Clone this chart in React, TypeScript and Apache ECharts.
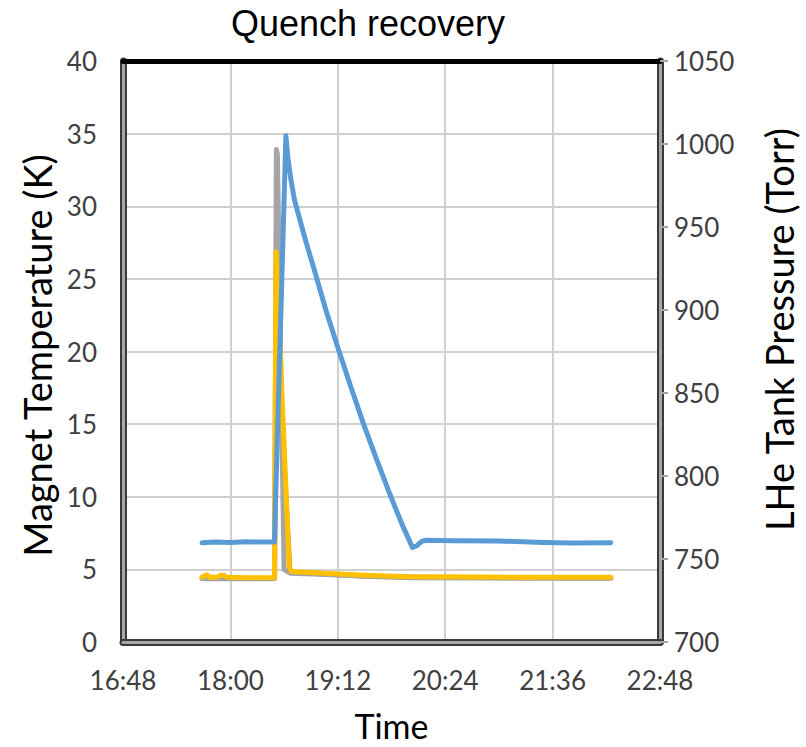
import React, { useEffect, useRef } from "react";
import * as echarts from "echarts";

// Time in minutes after midnight
const xTickMin = 1008; // 16:48
const xTickMax = 1368; // 22:48
const xTickStep = 72;

// LHe tank pressure (Torr), right axis – blue
const pressureTime = [1061, 1070, 1080, 1090, 1100, 1109.5, 1117.2, 1118.5, 1120.5, 1123, 1127, 1131, 1136, 1144, 1152.5, 1161, 1169, 1178, 1186.5, 1195, 1202, 1205, 1208, 1211, 1230, 1260, 1290, 1310, 1335];
const pressureValue = [759.8, 760.3, 760.0, 760.4, 760.2, 760.3, 1005, 992, 979, 966, 953, 940, 925, 900, 876, 853, 832, 810, 790, 771, 757, 758, 760.5, 761.3, 761.0, 760.8, 760.0, 759.6, 759.8];

// Magnet temperatures (K), left axis
const orangeTime = [1061, 1090, 1109.6, 1111, 1119.8, 1121, 1140, 1170, 1200, 1250, 1300, 1335];
const orangeValue = [4.4, 4.38, 4.38, 22, 5.1, 4.8, 4.7, 4.55, 4.47, 4.44, 4.43, 4.43];

const grayTime = [1061, 1090, 1109.6, 1110.8, 1111.5, 1116, 1120, 1140, 1170, 1200, 1250, 1300, 1335];
const grayValue = [4.36, 4.36, 4.36, 33.9, 33.6, 5.0, 4.74, 4.67, 4.52, 4.43, 4.4, 4.39, 4.39];

const yellowTime = [1061, 1063, 1064.5, 1066, 1071, 1073.5, 1075.5, 1078, 1090, 1109.5, 1110.6, 1119.4, 1121, 1140, 1170, 1200, 1250, 1300, 1335];
const yellowValue = [4.45, 4.6, 4.62, 4.45, 4.45, 4.6, 4.6, 4.45, 4.43, 4.42, 26.85, 5.2, 4.85, 4.75, 4.6, 4.5, 4.47, 4.45, 4.45];

const tempMin = 0, tempMax = 40, tempStep = 5;
const presMin = 700, presMax = 1050, presStep = 50;

const zip = (a: number[], b: number[]) => a.map((t, i) => [t, b[i]]);
const fmtTime = (v: number) => `${Math.floor(v / 60)}:${String(Math.round(v % 60)).padStart(2, "0")}`;

const TICK_FONT = "Lato";
const TITLE_FONT = "Lato";

export default function App() {
  const ref = useRef<HTMLDivElement>(null);
  useEffect(() => {
    document.body.style.margin = "0";
    const chart = echarts.init(ref.current!, null, { renderer: "svg" });
    const dark = "#3a3a3a";
    const gray = "#A6A6A6";
    const hiddenAxis = {
      axisLabel: { show: false },
      axisTick: { show: false },
      splitLine: { show: false },
    };
    const lineW = 5;
    chart.setOption({
      animation: false,
      backgroundColor: "#fff",
      title: {
        text: "Quench recovery",
        left: 368,
        textAlign: "center",
        top: 5,
        padding: 0,
        textStyle: { fontFamily: "Liberation Sans", fontSize: 36, fontWeight: "normal", color: "#000" },
      },
      grid: { left: 123, right: 138, top: 61, bottom: 100, containLabel: false },
      xAxis: [
        {
          type: "value",
          min: xTickMin,
          max: xTickMax,
          interval: xTickStep,
          position: "bottom",
          name: "Time",
          nameLocation: "middle",
          nameGap: 66,
          nameTextStyle: { fontFamily: TITLE_FONT, fontSize: 34, color: "#000" },
          axisLine: { lineStyle: { color: dark, width: 7 } },
          axisTick: { show: false },
          axisLabel: { fontFamily: TICK_FONT, fontSize: 26, color: "#404040", margin: 25, formatter: fmtTime },
          splitLine: { show: true, lineStyle: { color: "#D0D0D0", width: 2 } },
        },
        {
          type: "value", min: xTickMin, max: xTickMax, position: "bottom",
          axisLine: { lineStyle: { color: gray, width: 3 } }, ...hiddenAxis,
        },
        {
          type: "value", min: xTickMin, max: xTickMax, position: "top",
          axisLine: { lineStyle: { color: "#000", width: 5 } }, ...hiddenAxis,
        },
      ],
      yAxis: [
        {
          type: "value",
          min: tempMin,
          max: tempMax,
          interval: tempStep,
          position: "left",
          name: "Magnet Temperature (K)",
          nameLocation: "middle",
          nameRotate: 90,
          nameGap: 62,
          nameTextStyle: { fontFamily: TITLE_FONT, fontSize: 38, color: "#000", padding: [0, 8, 0, 0] },
          axisLine: { show: true, lineStyle: { color: dark, width: 7 } },
          axisTick: { show: false },
          axisLabel: { fontFamily: TICK_FONT, fontSize: 26, color: "#404040", margin: 26 },
          splitLine: { show: true, lineStyle: { color: "#D0D0D0", width: 2 } },
        },
        {
          type: "value",
          min: presMin,
          max: presMax,
          interval: presStep,
          position: "right",
          name: "LHe Tank Pressure (Torr)",
          nameLocation: "middle",
          nameRotate: 90,
          nameGap: 100,
          nameTextStyle: { fontFamily: TITLE_FONT, fontSize: 38, color: "#000", padding: [0, 0, 0, 44] },
          axisLine: { show: true, lineStyle: { color: dark, width: 7 } },
          axisTick: { show: true, length: 8, lineStyle: { color: gray, width: 2 } },
          axisLabel: { fontFamily: TICK_FONT, fontSize: 26, color: "#404040", margin: 14, formatter: (v: number) => String(v) },
          splitLine: { show: false },
        },
        {
          type: "value", min: tempMin, max: tempMax, position: "left",
          axisLine: { show: true, lineStyle: { color: gray, width: 3 } }, ...hiddenAxis,
        },
        {
          type: "value", min: presMin, max: presMax, position: "right",
          axisLine: { show: true, lineStyle: { color: gray, width: 3 } }, ...hiddenAxis,
        },
      ],
      series: [
        {
          type: "line", name: "T2", xAxisIndex: 0, yAxisIndex: 0, showSymbol: false, symbol: "none",
          data: zip(orangeTime, orangeValue),
          lineStyle: { color: "#ED7D31", width: lineW, cap: "round", join: "round" },
        },
        {
          type: "line", name: "T3", xAxisIndex: 0, yAxisIndex: 0, showSymbol: false, symbol: "none",
          data: zip(grayTime, grayValue),
          lineStyle: { color: "#A5A5A5", width: lineW, cap: "round", join: "round" },
        },
        {
          type: "line", name: "T4", xAxisIndex: 0, yAxisIndex: 0, showSymbol: false, symbol: "none",
          data: zip(yellowTime, yellowValue),
          lineStyle: { color: "#FFC000", width: lineW, cap: "round", join: "round" },
        },
        {
          type: "line", name: "P", xAxisIndex: 0, yAxisIndex: 1, showSymbol: false, symbol: "none",
          data: zip(pressureTime, pressureValue),
          lineStyle: { color: "#5B9BD5", width: lineW, cap: "round", join: "round" },
        },
      ],
    });
    return () => chart.dispose();
  }, []);
  return <div ref={ref} style={{ position: "fixed", left: 0, top: 0, width: 806, height: 747 }} />;
}
